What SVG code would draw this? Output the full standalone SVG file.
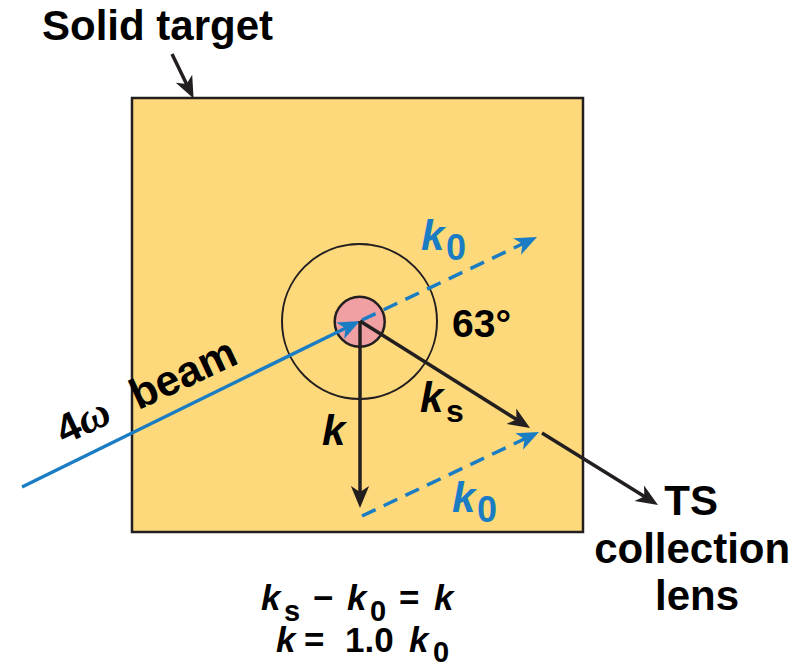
<svg xmlns="http://www.w3.org/2000/svg" width="810" height="668" viewBox="0 0 810 668">
<style>
  .lbl { font-family: "Liberation Sans", Arial, sans-serif; font-weight: bold; fill: #000; }
  .it { font-style: italic; }
  .blue { fill: #1a7dc3; }
  .sub { font-style: normal; }
  .blk { stroke: #231f20; stroke-width: 3.5; fill: none; }
  .bl { stroke: #1a7dc3; stroke-width: 3.5; fill: none; }
  .dash { stroke-dasharray: 15 9; }
</style>
<defs>
  <marker id="ahK" viewBox="-7 -3 8 6" markerWidth="8" markerHeight="6" refX="-4" refY="0" orient="auto" markerUnits="strokeWidth">
    <path d="M0,0 L-6.3,-2.6 L-4.6,0 L-6.3,2.6 Z" fill="#231f20"/>
  </marker>
  <marker id="ahB" viewBox="-7 -3 8 6" markerWidth="8" markerHeight="6" refX="-4" refY="0" orient="auto" markerUnits="strokeWidth">
    <path d="M0,0 L-6.3,-2.6 L-4.6,0 L-6.3,2.6 Z" fill="#1a7dc3"/>
  </marker>
</defs>
<rect width="810" height="668" fill="#fff"/>

<g id="target">
  <rect x="132" y="98" width="451" height="434" fill="#fdd97b" stroke="#231f20" stroke-width="2.5"/>
</g>
<g id="outer-circle">
  <circle cx="359.5" cy="321.4" r="77.5" fill="none" stroke="#231f20" stroke-width="2"/>
</g>
<g id="focus-spot">
  <circle cx="359.7" cy="321.7" r="25" fill="#f0a0a3" stroke="#231f20" stroke-width="2.5"/>
</g>

<g id="connectors">
  <line class="blk" x1="172" y1="54" x2="187.5" y2="86" stroke-width="2.5" marker-end="url(#ahK)"/>
  <line class="bl" x1="22" y1="487" x2="347.4" y2="327.2" marker-end="url(#ahB)"/>
  <line class="bl dash" x1="362" y1="320" x2="524.4" y2="243" marker-end="url(#ahB)"/>
  <line class="blk" x1="360" y1="321" x2="518.2" y2="420.5" marker-end="url(#ahK)"/>
  <line class="blk" x1="542" y1="433" x2="646.1" y2="497.6" marker-end="url(#ahK)"/>
  <line class="blk" x1="360" y1="321" x2="360" y2="494" marker-end="url(#ahK)"/>
  <line class="bl dash" x1="362" y1="516" x2="526.4" y2="438" marker-end="url(#ahB)"/>
</g>

<g id="labels">
  <text class="lbl" x="42" y="40" font-size="42">Solid target</text>

  <text class="lbl it blue" x="421" y="250" font-size="42">k<tspan class="sub" x="446" y="260" font-size="36">0</tspan></text>
  <text class="lbl" x="452" y="337" font-size="39">63°</text>
  <text class="lbl it" x="420" y="412" font-size="42">k<tspan class="sub" x="446" y="422" font-size="32">s</tspan></text>
  <text class="lbl it" x="322" y="445" font-size="42">k</text>
  <text class="lbl it blue" x="452" y="512" font-size="42">k<tspan class="sub" x="477" y="522" font-size="36">0</tspan></text>

  <g transform="translate(64,445) rotate(-25)">
    <text class="lbl" x="0" y="0" font-size="41">4<tspan font-family="'Liberation Serif', 'Times New Roman', serif" font-style="italic" font-size="44">ω</tspan></text>
    <text class="lbl" x="82" y="0" font-size="43">beam</text>
  </g>

  <text class="lbl" font-size="42" text-anchor="middle">
    <tspan x="697" y="515">TS</tspan>
    <tspan x="698" y="563">collection</tspan>
    <tspan x="697" y="610">lens</tspan>
  </text>

  <text class="lbl" font-size="35">
    <tspan class="it" x="261" y="610">k</tspan><tspan x="284" y="621" font-size="29">s</tspan><tspan x="313" y="610">−</tspan><tspan class="it" x="347" y="610">k</tspan><tspan x="370" y="621" font-size="29">0</tspan><tspan x="399" y="610">=</tspan><tspan class="it" x="434" y="610">k</tspan>
  </text>
  <text class="lbl" font-size="35">
    <tspan class="it" x="276" y="652">k</tspan><tspan x="304" y="652">=</tspan><tspan x="345" y="652">1.0</tspan><tspan class="it" x="409" y="652">k</tspan><tspan x="433" y="662" font-size="29">0</tspan>
  </text>
</g>
</svg>
